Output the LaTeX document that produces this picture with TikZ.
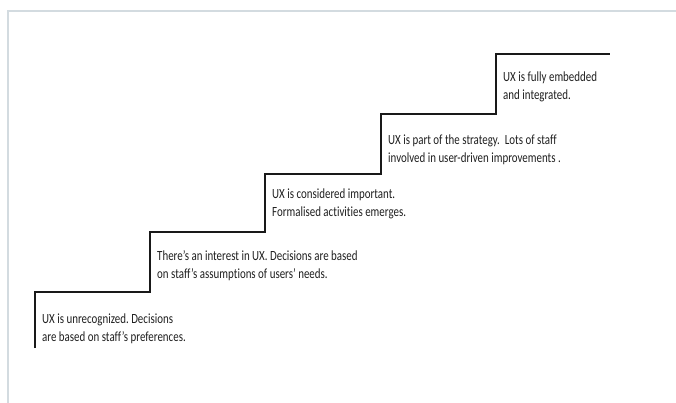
\documentclass[tikz,border=0pt]{standalone}
\usepackage{fontspec}
\setmainfont{Carlito}[FakeStretch=0.78, Ligatures=NoCommon]
\definecolor{framegray}{HTML}{D3DBE0}
\frenchspacing

\begin{document}
\begin{tikzpicture}[x=1pt,y=-1pt]
	\tikzstyle{stage}=[anchor=west, inner sep=0pt, align=left, text=black!88, font=\fontsize{14}{18}\selectfont]
	\tikzstyle{stair}=[line width=1.9pt, black!90]
	\useasboundingbox (0,0) rectangle (676,403);
	\draw[framegray, line width=2.6pt] (8,403) -- (8,11) -- (676,11);
	% the stairs
	\path (35,348) coordinate (s0);
	\path (35,292) coordinate (s1);
	\path (150,292) coordinate (s2);
	\path (150,232) coordinate (s3);
	\path (265,232) coordinate (s4);
	\path (265,174) coordinate (s5);
	\path (381,174) coordinate (s6);
	\path (381,114) coordinate (s7);
	\path (496,114) coordinate (s8);
	\path (496,54)  coordinate (s9);
	\path (610,54)  coordinate (s10);
	\draw[stair] (s0) -- (s1) -- (s2) -- (s3) -- (s4) -- (s5) -- (s6) -- (s7) -- (s8) -- (s9) -- (s10);
	% the texts
	\path (42,328.5)  node[stage] (t1) {UX is unrecognized. Decisions\\are based on staff’s preferences.};
	\path (157,265.5) node[stage] (t2) {There’s an interest in UX. Decisions are based\\on staff’s assumptions of users’ needs.};
	\path (272,203.5) node[stage] (t3) {UX is considered important.\\Formalised activities emerges.};
	\path (388,149.5) node[stage] (t4) {UX is part of the strategy.~ Lots of staff\\involved in user-driven improvements .};
	\path (503,86.5)  node[stage] (t5) {UX is fully embedded\\and integrated.};
\end{tikzpicture}
\end{document}
